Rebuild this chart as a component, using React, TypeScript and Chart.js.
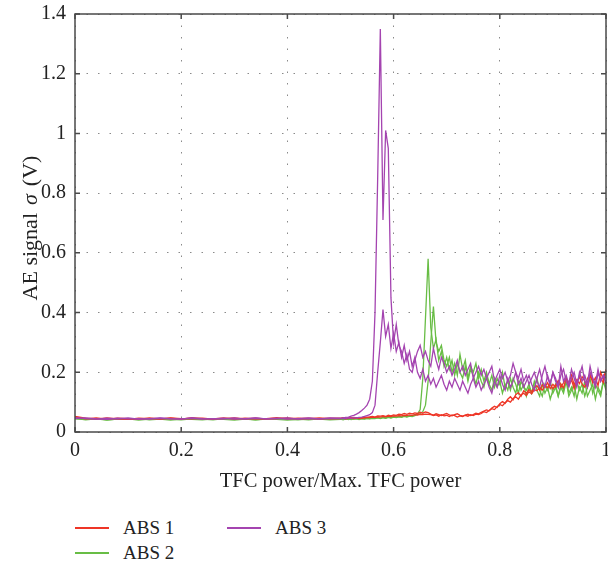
import React, { useEffect, useRef } from "react";
import { Chart, registerables } from "chart.js";

Chart.register(...registerables);

const X_LOW = [0, 0.02, 0.04, 0.06, 0.08, 0.1, 0.12, 0.14, 0.16, 0.18, 0.2, 0.22, 0.24, 0.26, 0.28, 0.3, 0.32, 0.34, 0.36, 0.38, 0.4, 0.42, 0.44, 0.46, 0.48];
const X_HIGH = [
  0.5, 0.505, 0.51, 0.515, 0.52, 0.525, 0.53, 0.535, 0.54, 0.545,
  0.55, 0.555, 0.56, 0.565, 0.57, 0.575, 0.58, 0.585, 0.59, 0.595,
  0.6, 0.605, 0.61, 0.615, 0.62, 0.625, 0.63, 0.635, 0.64, 0.645,
  0.65, 0.655, 0.66, 0.665, 0.67, 0.675, 0.68, 0.685, 0.69, 0.695,
  0.7, 0.705, 0.71, 0.715, 0.72, 0.725, 0.73, 0.735, 0.74, 0.745,
  0.75, 0.755, 0.76, 0.765, 0.77, 0.775, 0.78, 0.785, 0.79, 0.795,
  0.8, 0.805, 0.81, 0.815, 0.82, 0.825, 0.83, 0.835, 0.84, 0.845,
  0.85, 0.855, 0.86, 0.865, 0.87, 0.875, 0.88, 0.885, 0.89, 0.895,
  0.9, 0.905, 0.91, 0.915, 0.92, 0.925, 0.93, 0.935, 0.94, 0.945,
  0.95, 0.955, 0.96, 0.965, 0.97, 0.975, 0.98, 0.985, 0.99, 0.995, 1.0,
];
const X_VALUES = [...X_LOW, ...X_HIGH];

const X_TICKS = [0, 0.2, 0.4, 0.6, 0.8, 1];
const Y_TICKS = [0, 0.2, 0.4, 0.6, 0.8, 1, 1.2, 1.4];

// ABS 1 (red), two sweeps
const ABS1_A = [
  0.050, 0.044, 0.047, 0.043, 0.046, 0.045, 0.042, 0.047, 0.044, 0.046, 0.043, 0.048, 0.045, 0.044, 0.047, 0.043, 0.046, 0.044, 0.045, 0.048, 0.044, 0.046, 0.045, 0.047, 0.045,
  0.046, 0.048, 0.045, 0.047, 0.046, 0.049, 0.047, 0.048, 0.046, 0.050, 0.049,
  0.051, 0.052, 0.050, 0.054, 0.053, 0.055, 0.052, 0.056, 0.054, 0.057,
  0.056, 0.060, 0.058, 0.062, 0.059, 0.063, 0.061, 0.064, 0.062, 0.066, 0.063, 0.067, 0.065, 0.060,
  0.055, 0.057, 0.053, 0.058, 0.054, 0.056, 0.052, 0.057, 0.055, 0.050, 0.054, 0.052, 0.056, 0.053, 0.058, 0.055, 0.060, 0.058,
  0.062, 0.068, 0.065, 0.072, 0.078, 0.075, 0.085, 0.092,
  0.088, 0.098, 0.105, 0.100, 0.112, 0.118, 0.110, 0.125, 0.130, 0.122,
  0.135, 0.128, 0.142, 0.138, 0.150, 0.140, 0.155, 0.148, 0.160, 0.145,
  0.158, 0.170, 0.150, 0.165, 0.180, 0.155, 0.175, 0.145, 0.168, 0.185, 0.160, 0.150, 0.178, 0.195, 0.165, 0.182, 0.155, 0.200, 0.175, 0.210,
];
const ABS1_B = [
  0.052, 0.046, 0.043, 0.047, 0.044, 0.042, 0.046, 0.045, 0.043, 0.047, 0.045, 0.044, 0.046, 0.043, 0.045, 0.047, 0.044, 0.046, 0.043, 0.045, 0.047, 0.044, 0.046, 0.043, 0.046,
  0.045, 0.047, 0.044, 0.046, 0.048, 0.045, 0.047, 0.046, 0.048, 0.047, 0.049,
  0.048, 0.050, 0.049, 0.051, 0.050, 0.052, 0.051, 0.053, 0.052, 0.054,
  0.053, 0.055, 0.054, 0.056, 0.055, 0.057, 0.056, 0.058, 0.057, 0.059, 0.058, 0.060, 0.059, 0.058,
  0.057, 0.061, 0.058, 0.055, 0.059, 0.062, 0.057, 0.054, 0.058, 0.061, 0.056, 0.053, 0.057, 0.060, 0.055, 0.058, 0.063, 0.061,
  0.066, 0.070, 0.074, 0.071, 0.080, 0.086, 0.082, 0.095,
  0.102, 0.096, 0.110, 0.118, 0.108, 0.125, 0.132, 0.120, 0.138, 0.130,
  0.142, 0.135, 0.148, 0.155, 0.140, 0.158, 0.150, 0.165, 0.145, 0.160,
  0.150, 0.172, 0.160, 0.148, 0.178, 0.165, 0.190, 0.158, 0.175, 0.162, 0.185, 0.170, 0.150, 0.188, 0.172, 0.160, 0.198, 0.180, 0.165, 0.205,
];

// ABS 2 (green), two sweeps
const ABS2_A = [
  0.046, 0.041, 0.044, 0.040, 0.043, 0.042, 0.045, 0.041, 0.043, 0.040, 0.044, 0.042, 0.041, 0.044, 0.042, 0.040, 0.043, 0.041, 0.044, 0.042, 0.040, 0.043, 0.041, 0.044, 0.042,
  0.043, 0.041, 0.044, 0.042, 0.045, 0.043, 0.044, 0.042, 0.045, 0.043, 0.046,
  0.044, 0.046, 0.045, 0.047, 0.045, 0.048, 0.046, 0.049, 0.047, 0.050,
  0.048, 0.051, 0.049, 0.052, 0.050, 0.053, 0.052, 0.055,
  0.060, 0.075, 0.18, 0.38, 0.58, 0.35, 0.28, 0.31, 0.24, 0.27, 0.22, 0.25,
  0.21, 0.24, 0.19, 0.23, 0.20, 0.18, 0.22, 0.17, 0.21, 0.19, 0.16, 0.20,
  0.17, 0.15, 0.19, 0.16, 0.14, 0.18, 0.15, 0.17, 0.13, 0.16, 0.14, 0.18, 0.15, 0.13, 0.17, 0.14, 0.16, 0.12,
  0.15, 0.13, 0.17, 0.14, 0.12, 0.16, 0.13, 0.15, 0.11, 0.14, 0.16, 0.12, 0.15, 0.13, 0.17, 0.12, 0.14, 0.16, 0.11, 0.15, 0.13, 0.17, 0.12, 0.14, 0.16, 0.11, 0.15, 0.13, 0.17, 0.14,
];
const ABS2_B = [
  0.044, 0.042, 0.045, 0.041, 0.043, 0.044, 0.040, 0.043, 0.045, 0.042, 0.041, 0.044, 0.043, 0.041, 0.045, 0.042, 0.044, 0.041, 0.043, 0.045, 0.042, 0.041, 0.044, 0.043, 0.041,
  0.042, 0.044, 0.043, 0.045, 0.042, 0.044, 0.046, 0.043, 0.045, 0.044, 0.046,
  0.045, 0.047, 0.046, 0.048, 0.046, 0.049, 0.047, 0.050, 0.048, 0.051,
  0.050, 0.052, 0.051, 0.053, 0.052, 0.054, 0.055, 0.057,
  0.058, 0.062, 0.068, 0.09, 0.17, 0.30, 0.42, 0.30, 0.27, 0.29, 0.24, 0.22,
  0.25, 0.20, 0.23, 0.19, 0.26, 0.21, 0.24, 0.18, 0.22, 0.20, 0.23, 0.18,
  0.21, 0.17, 0.20, 0.16, 0.19, 0.15, 0.18, 0.16, 0.20, 0.15, 0.17, 0.14, 0.18, 0.16, 0.13, 0.17, 0.15, 0.14,
  0.16, 0.13, 0.15, 0.18, 0.14, 0.12, 0.16, 0.14, 0.17, 0.13, 0.15, 0.12, 0.16, 0.14, 0.18, 0.13, 0.15, 0.12, 0.17, 0.14, 0.16, 0.12, 0.15, 0.18, 0.13, 0.16, 0.14, 0.12, 0.17, 0.15,
];

// ABS 3 (purple), two sweeps
const ABS3_A = [
  0.048, 0.045, 0.043, 0.046, 0.044, 0.047, 0.043, 0.045, 0.046, 0.044, 0.043, 0.047, 0.045, 0.044, 0.046, 0.043, 0.045, 0.047, 0.044, 0.046, 0.043, 0.045, 0.047, 0.044, 0.046,
  0.046, 0.047, 0.049, 0.050, 0.053, 0.056, 0.060, 0.065, 0.072, 0.080, 0.090,
  0.11, 0.17, 0.40, 0.85, 1.35, 0.71, 1.01, 0.95, 0.45, 0.30,
  0.36, 0.29, 0.27, 0.23, 0.26, 0.21, 0.20, 0.24, 0.27, 0.29, 0.25, 0.27, 0.24, 0.22,
  0.28, 0.24, 0.21, 0.25, 0.23, 0.20, 0.22, 0.19, 0.21, 0.24, 0.20, 0.22, 0.19, 0.21, 0.23, 0.18, 0.20, 0.22,
  0.19, 0.21, 0.18, 0.20, 0.22, 0.17, 0.19, 0.21, 0.18, 0.20, 0.17, 0.19, 0.23, 0.20, 0.18, 0.21, 0.17, 0.19,
  0.16, 0.18, 0.20, 0.17, 0.15, 0.19, 0.22, 0.18, 0.16, 0.20, 0.17, 0.15, 0.19, 0.21, 0.17, 0.15, 0.18, 0.20, 0.16, 0.19, 0.22, 0.17, 0.15, 0.20, 0.18, 0.16, 0.21, 0.17, 0.19, 0.18,
];
const ABS3_B = [
  0.045, 0.047, 0.044, 0.042, 0.046, 0.044, 0.045, 0.043, 0.047, 0.045, 0.044, 0.046, 0.043, 0.045, 0.044, 0.047, 0.043, 0.046, 0.044, 0.045, 0.047, 0.043, 0.045, 0.044, 0.046,
  0.045, 0.046, 0.045, 0.047, 0.046, 0.048, 0.047, 0.049, 0.050, 0.052, 0.055,
  0.058, 0.065, 0.09, 0.20, 0.30, 0.41, 0.32, 0.36, 0.28, 0.33,
  0.27, 0.30, 0.25, 0.29, 0.24, 0.27, 0.22, 0.25, 0.20, 0.18, 0.21, 0.17, 0.19, 0.16,
  0.18, 0.15, 0.17, 0.19, 0.16, 0.14, 0.17, 0.15, 0.18, 0.16, 0.14, 0.17, 0.15, 0.13, 0.16, 0.18, 0.15, 0.17,
  0.14, 0.16, 0.18, 0.15, 0.13, 0.17, 0.15, 0.19, 0.16, 0.14, 0.18, 0.15, 0.17, 0.20, 0.16, 0.18, 0.15, 0.17,
  0.19, 0.16, 0.14, 0.18, 0.21, 0.17, 0.15, 0.19, 0.16, 0.20, 0.18, 0.15, 0.22, 0.17, 0.19, 0.16, 0.21, 0.18, 0.15, 0.20, 0.17, 0.19, 0.16, 0.22, 0.18, 0.15, 0.20, 0.17, 0.19, 0.16,
];

const LEGEND_LABELS = ["ABS 1", "ABS 2", "ABS 3"];
const COLORS = ["#ee3526", "#68bd45", "#a444b0"];
const Y_TITLE_PARTS = ["AE signal", "σ", "(V)"];
const X_TITLE = "TFC power/Max. TFC power";

const FONT = "'Liberation Serif', 'DejaVu Serif', serif";

function toPoints(values: number[]) {
  return values.map((v, i) => ({ x: X_VALUES[i], y: v }));
}

const framePlugin = {
  id: "frame",
  afterDraw(chart: any) {
    const { ctx, chartArea } = chart;
    const { left, right, top, bottom } = chartArea;
    const xs = chart.scales.x;
    const ys = chart.scales.y;
    ctx.save();
    ctx.strokeStyle = "#4a4a4a";
    ctx.lineWidth = 1.5;
    ctx.setLineDash([]);
    ctx.strokeRect(left, top, right - left, bottom - top);
    const t = 5;
    ctx.beginPath();
    X_TICKS.forEach((v) => {
      const px = xs.getPixelForValue(v);
      ctx.moveTo(px, bottom);
      ctx.lineTo(px, bottom - t);
      ctx.moveTo(px, top);
      ctx.lineTo(px, top + t);
    });
    Y_TICKS.forEach((v) => {
      const py = ys.getPixelForValue(v);
      ctx.moveTo(left, py);
      ctx.lineTo(left + t, py);
      ctx.moveTo(right, py);
      ctx.lineTo(right - t, py);
    });
    ctx.stroke();

    // y-axis title with italic sigma
    const size = 22;
    const normal = `${size}px ${FONT}`;
    const italic = `italic ${size}px ${FONT}`;
    const gap = 8;
    ctx.font = normal;
    const w0 = ctx.measureText(Y_TITLE_PARTS[0]).width;
    const w2 = ctx.measureText(Y_TITLE_PARTS[2]).width;
    ctx.font = italic;
    const w1 = ctx.measureText(Y_TITLE_PARTS[1]).width;
    const total = w0 + gap + w1 + gap + w2;
    const cy = (top + bottom) / 2 + 5;
    ctx.translate(37, cy);
    ctx.rotate(-Math.PI / 2);
    ctx.fillStyle = "#222";
    ctx.textBaseline = "alphabetic";
    ctx.textAlign = "left";
    let u = -total / 2;
    ctx.font = normal;
    ctx.fillText(Y_TITLE_PARTS[0], u, 0);
    u += w0 + gap;
    ctx.font = italic;
    ctx.fillText(Y_TITLE_PARTS[1], u, 0);
    u += w1 + gap;
    ctx.font = normal;
    ctx.fillText(Y_TITLE_PARTS[2], u, 0);
    ctx.restore();
  },
};

export default function App() {
  const canvasRef = useRef<HTMLCanvasElement | null>(null);

  useEffect(() => {
    if (!canvasRef.current) return;
    const mk = (values: number[], color: string) => ({
      data: toPoints(values),
      borderColor: color,
      backgroundColor: color,
      borderWidth: 1.3,
      pointRadius: 0,
      tension: 0,
      fill: false,
    });
    const chart = new Chart(canvasRef.current, {
      type: "line",
      data: {
        datasets: [
          { label: LEGEND_LABELS[2], ...mk(ABS3_A, COLORS[2]) },
          { label: LEGEND_LABELS[2] + " (b)", ...mk(ABS3_B, COLORS[2]) },
          { label: LEGEND_LABELS[0], ...mk(ABS1_A, COLORS[0]) },
          { label: LEGEND_LABELS[0] + " (b)", ...mk(ABS1_B, COLORS[0]) },
          { label: LEGEND_LABELS[1], ...mk(ABS2_A, COLORS[1]) },
          { label: LEGEND_LABELS[1] + " (b)", ...mk(ABS2_B, COLORS[1]) },
        ],
      },
      options: {
        responsive: false,
        animation: false,
        layout: { padding: { left: 0, right: 2, top: 14, bottom: 0 } },
        plugins: { legend: { display: false }, tooltip: { enabled: false } },
        scales: {
          x: {
            type: "linear",
            min: 0,
            max: 1,
            afterBuildTicks: (s: any) => {
              s.ticks = X_TICKS.map((v) => ({ value: v }));
            },
            afterFit: (s: any) => {
              s.height = 68;
              s.paddingLeft = 0;
              s.paddingRight = 0;
            },
            ticks: {
              callback: (v: any) => String(v),
              font: { family: FONT, size: 20 },
              color: "#222",
              padding: 7,
              maxRotation: 0,
              autoSkip: false,
            },
            grid: { color: "#8a8a8a", lineWidth: 1, drawTicks: false },
            border: { display: false, dash: [1.5, 10] },
            title: {
              display: true,
              text: X_TITLE,
              font: { family: FONT, size: 20.5 },
              color: "#222",
              padding: { top: 0, bottom: 6 },
            },
          },
          y: {
            type: "linear",
            min: 0,
            max: 1.4,
            afterBuildTicks: (s: any) => {
              s.ticks = Y_TICKS.map((v) => ({ value: v }));
            },
            afterFit: (s: any) => {
              s.width = 75;
              s.paddingTop = 0;
              s.paddingBottom = 0;
            },
            ticks: {
              callback: (v: any) => String(Math.round(v * 10) / 10),
              font: { family: FONT, size: 20 },
              color: "#222",
              padding: 9,
              autoSkip: false,
            },
            grid: { color: "#8a8a8a", lineWidth: 1, drawTicks: false },
            border: { display: false, dash: [1.5, 10] },
            title: { display: false },
          },
        },
      },
      plugins: [framePlugin],
    });
    return () => chart.destroy();
  }, []);

  const legendItem = (label: string, color: string, left: number, top: number) => (
    <div key={label} style={{ position: "absolute", left, top, height: 22, display: "flex", alignItems: "center" }}>
      <div style={{ width: 34, height: 2, background: color }} />
      <span style={{ marginLeft: 14, fontFamily: FONT, fontSize: 19, color: "#222", lineHeight: "22px" }}>{label}</span>
    </div>
  );

  return (
    <div style={{ position: "fixed", left: 0, top: 0, width: 608, height: 567, background: "#fff", overflow: "hidden" }}>
      <canvas ref={canvasRef} width={608} height={500} style={{ display: "block", width: 608, height: 500 }} />
      {legendItem(LEGEND_LABELS[0], COLORS[0], 75, 517)}
      {legendItem(LEGEND_LABELS[2], COLORS[2], 227, 517)}
      {legendItem(LEGEND_LABELS[1], COLORS[1], 75, 542)}
    </div>
  );
}
